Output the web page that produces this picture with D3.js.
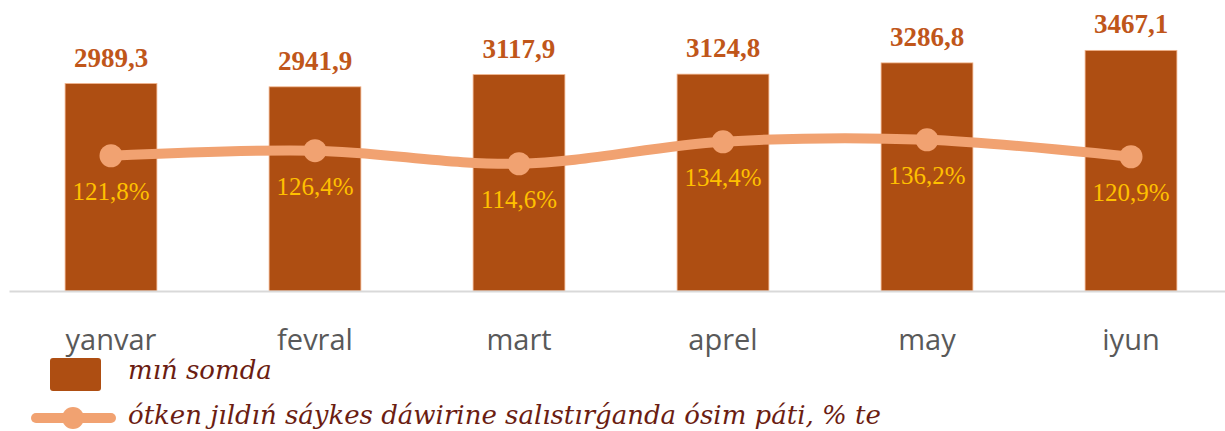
<!DOCTYPE html>
<html>
<head>
<meta charset="utf-8">
<script src="https://cdn.jsdelivr.net/npm/d3@7"></script>
<style>
  html, body { margin: 0; padding: 0; background: #ffffff; }
  svg { display: block; }
</style>
</head>
<body>
<svg id="chart" width="1225" height="431"></svg>
<script>
// Monthly figures: amount (thousand som) and growth vs. same period last year (%)
const months = ["yanvar", "fevral", "mart", "aprel", "may", "iyun"];
const amounts = [2989.3, 2941.9, 3117.9, 3124.8, 3286.8, 3467.1];
const growth = [121.8, 126.4, 114.6, 134.4, 136.2, 120.9];
const legendLabels = ["mıń somda", "ótken jıldıń sáykes dáwirine salıstırǵanda ósim páti, % te"];

const fmt = v => v.toFixed(1).replace(".", ",");

const svg = d3.select("#chart");
const baseY = 291, topY = 13.4;

const x = d3.scaleBand().domain(months).range([9, 1233])
  .paddingInner(0.55).paddingOuter(0.275);
const y = d3.scaleLinear().domain([0, 4000]).range([baseY, topY]);
const y2 = d3.scaleLinear().domain([0, 250]).range([baseY, topY]);

// bars
svg.append("g").selectAll("rect").data(months).join("rect")
  .attr("x", d => x(d))
  .attr("y", (d, i) => y(amounts[i]))
  .attr("width", x.bandwidth())
  .attr("height", (d, i) => baseY - y(amounts[i]))
  .attr("fill", "#ae4e12")
  .attr("stroke", "#f2b48c")
  .attr("stroke-width", 0.8);

// category axis
const axis = svg.append("g").attr("transform", `translate(0,${baseY})`)
  .call(d3.axisBottom(x).tickSize(0).tickSizeOuter(0));
axis.select(".domain").attr("stroke", "#d9d9d9").attr("stroke-width", 2);
axis.selectAll(".tick text")
  .attr("y", 59).attr("dy", 0)
  .attr("fill", "#595959")
  .style("font-family", "'Open Sans', sans-serif")
  .style("font-size", "29px");

// value labels above bars
svg.append("g").selectAll("text").data(months).join("text")
  .attr("x", d => x(d) + x.bandwidth() / 2)
  .attr("y", (d, i) => y(amounts[i]) - 17)
  .attr("text-anchor", "middle")
  .attr("fill", "#c0561a")
  .style("font-family", "'Liberation Serif', 'Times New Roman', serif")
  .style("font-weight", "bold")
  .style("font-size", "27px")
  .text((d, i) => fmt(amounts[i]));

// growth line
const cx = d => x(d) + x.bandwidth() / 2;
const line = d3.line().x(d => cx(d)).y((d, i) => y2(growth[i]))
  .curve(d3.curveCatmullRom.alpha(0.5));
svg.append("path").datum(months)
  .attr("d", line)
  .attr("fill", "none")
  .attr("stroke", "#f1a271")
  .attr("stroke-width", 10)
  .attr("stroke-linecap", "round");

svg.append("g").selectAll("circle").data(months).join("circle")
  .attr("cx", cx)
  .attr("cy", (d, i) => y2(growth[i]))
  .attr("r", 11.5)
  .attr("fill", "#f1a271");

// growth labels below points
svg.append("g").selectAll("text").data(months).join("text")
  .attr("x", cx)
  .attr("y", (d, i) => y2(growth[i]) + 44)
  .attr("text-anchor", "middle")
  .attr("fill", "#ffc000")
  .style("font-family", "'Liberation Serif', 'Times New Roman', serif")
  .style("font-size", "25px")
  .text((d, i) => fmt(growth[i]) + "%");

// legend
const lg = svg.append("g");
lg.append("rect").attr("x", 50).attr("y", 358).attr("width", 51).attr("height", 33)
  .attr("rx", 3).attr("fill", "#ae4e12");
lg.append("line").attr("x1", 36).attr("x2", 111).attr("y1", 418).attr("y2", 418)
  .attr("stroke", "#f1a271").attr("stroke-width", 10).attr("stroke-linecap", "round");
lg.append("circle").attr("cx", 73).attr("cy", 418).attr("r", 11).attr("fill", "#f1a271");

lg.selectAll("text").data(legendLabels).join("text")
  .attr("x", 128)
  .attr("y", (d, i) => i === 0 ? 379 : 424)
  .attr("fill", "#6b1d12")
  .style("font-family", "'DejaVu Serif', serif")
  .style("font-style", "italic")
  .style("font-size", "26px")
  .text(d => d);
</script>
</body>
</html>
